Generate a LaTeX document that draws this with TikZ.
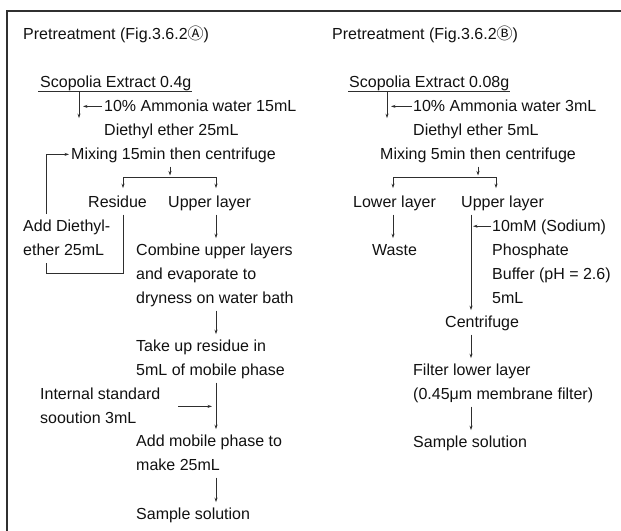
\documentclass[tikz,border=0pt]{standalone}
\usepackage{fontspec}
\setmainfont{Liberation Sans}
\newfontfamily\cjk{Noto Sans CJK JP}
\usetikzlibrary{arrows.meta,calc}
\definecolor{lncol}{HTML}{2E2E2E}
\definecolor{txtcol}{HTML}{111111}
\definecolor{frmcol}{HTML}{303030}
\begin{document}
\begin{tikzpicture}[x=1pt,y=-1pt,
  t/.style={anchor=north west, yshift=16.8pt, inner sep=0pt, align=left,
            font=\fontsize{16}{24}\selectfont, text=txtcol},
  arr/.style={draw=lncol, line width=0.8pt, -{Stealth[length=4.5pt,width=3pt]}},
  plain/.style={draw=lncol, line width=0.8pt}]
\useasboundingbox (0,0) rectangle (621,530);
\draw[draw=frmcol, line width=1.3pt] (7,531) -- (7,11) -- (622,11);

% ---------- left column ----------
\node[t] (preA) at (23,39) {\strut Pretreatment (Fig.3.6.2{\cjk Ⓐ})};
\node[t] (scoA) at (40,87) {\strut Scopolia Extract 0.4g};
\node[t] (ammA) at (104,111) {\strut 10\% Ammonia water 15mL};
\node[t] (dieA) at (104,135) {\strut Diethyl ether 25mL};
\node[t] (mixA) at (71,159) {\strut Mixing 15min then centrifuge};
\node[t] (resA) at (88,207) {\strut Residue};
\node[t] (upA) at (168,207) {\strut Upper layer};
\node[t] (addA) at (23,231) {\strut Add Diethyl-\\\strut ether 25mL};
\node[t] (comA) at (136,255) {\strut Combine upper layers\\\strut and evaporate to\\\strut dryness on water bath};
\node[t] (takA) at (136,351) {\strut Take up residue in\\\strut 5mL of mobile phase};
\node[t] (intA) at (40,399) {\strut Internal standard\\\strut sooution 3mL};
\node[t] (admA) at (136,446) {\strut Add mobile phase to\\\strut make 25mL};
\node[t] (samA) at (136,519) {\strut Sample solution};

\coordinate (vA) at (79,91);
\coordinate (mA) at (170,177);
\coordinate (bA1) at (123,177);
\coordinate (bA2) at (216,177);
\coordinate (lpA) at (46,273);

\draw[plain] ([xshift=-2pt,yshift=-4pt]scoA.base west) -- ([yshift=-4pt]scoA.base east);
\draw[arr] (vA) -- (dieA.north -| vA);
\draw[arr, shorten <=2pt, shorten >=4pt] (ammA.west) -- (ammA.west -| vA);
\draw[arr, shorten >=2pt] (addA.north -| lpA) |- (mixA.west);
\draw[arr, shorten >=1.5pt] (mixA.south -| mA) -- (mA);
\draw[plain] (bA1) -- (bA2);
\draw[arr, shorten >=2pt] (bA1) -- (resA.north -| bA1);
\draw[arr, shorten >=2pt] (bA2) -- (upA.north -| bA2);
\draw[plain] (resA.south -| bA1) |- (lpA) -- (addA.south -| lpA);
\draw[arr] (upA.south -| bA2) -- (comA.north -| bA2);
\draw[arr] (comA.south -| bA2) -- (takA.north -| bA2);
\draw[arr] (takA.south -| bA2) -- (admA.north -| bA2);
\draw[arr, shorten <=18pt, shorten >=4pt] (intA.east) -- (intA.east -| bA2);
\draw[arr] (admA.south -| bA2) -- (samA.north -| bA2);

% ---------- right column ----------
\node[t] (preB) at (332,39) {\strut Pretreatment (Fig.3.6.2{\cjk Ⓑ})};
\node[t] (scoB) at (349,87) {\strut Scopolia Extract 0.08g};
\node[t] (ammB) at (413,111) {\strut 10\% Ammonia water 3mL};
\node[t] (dieB) at (413,135) {\strut Diethyl ether 5mL};
\node[t] (mixB) at (380,159) {\strut Mixing 5min then centrifuge};
\node[t] (lowB) at (353,207) {\strut Lower layer};
\node[t] (upB) at (461,207) {\strut Upper layer};
\node[t] (wasB) at (372,255) {\strut Waste};
\node[t] (bufB) at (492,231) {\strut 10mM (Sodium)\\\strut Phosphate\\\strut Buffer (pH = 2.6)\\\strut 5mL};
\node[t] (cenB) at (445,327) {\strut Centrifuge};
\node[t] (filB) at (413,375) {\strut Filter lower layer\\\strut (0.45μm membrane filter)};
\node[t] (samB) at (413,447) {\strut Sample solution};

\coordinate (vB) at (387,91);
\coordinate (mB) at (478,177);
\coordinate (bB1) at (393,177);
\coordinate (bB2) at (496,177);
\coordinate (cB) at (471,177);
\coordinate (tB) at ($(bufB.north west)+(0,12)$);

\draw[plain] ([xshift=-1pt,yshift=-4pt]scoB.base west) -- ([yshift=-4pt]scoB.base east);
\draw[arr] (vB) -- (dieB.north -| vB);
\draw[arr, shorten <=1pt, shorten >=4pt] (ammB.west) -- (ammB.west -| vB);
\draw[arr, shorten >=1.5pt] (mixB.south -| mB) -- (mB);
\draw[plain] (bB1) -- (bB2);
\draw[arr, shorten >=2pt] (bB1) -- (lowB.north -| bB1);
\draw[arr, shorten >=2pt] (bB2) -- (upB.north -| bB2);
\draw[arr] (lowB.south -| bB1) -- (wasB.north -| bB1);
\draw[arr] (upB.south -| cB) -- (cenB.north -| cB);
\draw[arr, shorten <=1pt, shorten >=2pt] (tB) -- (tB -| cB);
\draw[arr] (cenB.south -| cB) -- (filB.north -| cB);
\draw[arr] (filB.south -| cB) -- (samB.north -| cB);
\end{tikzpicture}
\end{document}
